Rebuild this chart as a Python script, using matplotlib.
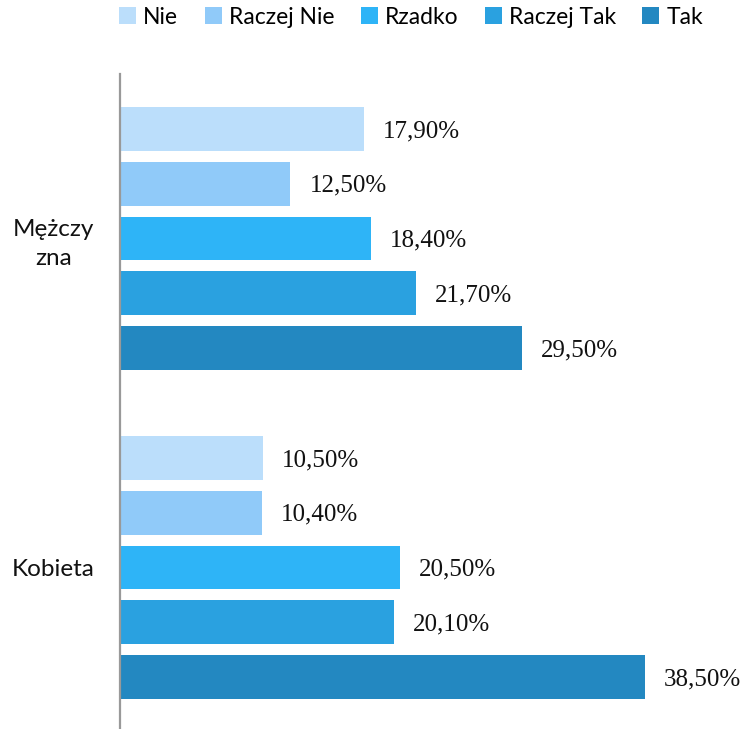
import matplotlib
matplotlib.use("Agg")
import matplotlib.pyplot as plt
from matplotlib.patches import Patch

categories = ["Mężczy\nzna", "Kobieta"]
series = ["Nie", "Raczej Nie", "Rzadko", "Raczej Tak", "Tak"]
values = {
    "Nie": [17.9, 10.5],
    "Raczej Nie": [12.5, 10.4],
    "Rzadko": [18.4, 20.5],
    "Raczej Tak": [21.7, 20.1],
    "Tak": [29.5, 38.5],
}
colors = ["#BBDEFB", "#90CAF9", "#2EB4F7", "#2AA1E0", "#2388C1"]

W, H = 744, 729
fig = plt.figure(figsize=(W / 100, H / 100), dpi=100)
ax = fig.add_axes([120 / W, -3 / H, 624 / W, 658 / H])

nser = len(series)
for gi, cat in enumerate(categories):
    for si, s in enumerate(series):
        y = gi * (nser + 1) + si
        v = values[s][gi]
        ax.barh(y, v, height=0.8, color=colors[si], edgecolor="none")
        ax.text(v + 1.4, y + 0.04, f"{v:.2f}%".replace(".", ","), va="center", ha="left",
                family="Liberation Serif", fontsize=18, color="#111111")

ax.set_xlim(0, 45.76)
ax.set_ylim(11, -1)
ax.set_xticks([])
centers = [gi * (nser + 1) + (nser - 1) / 2 for gi in range(len(categories))]
ax.set_yticks(centers)
ax.set_yticklabels(categories, family="Lato", fontsize=17.5, ha="center", color="#111111",
                   linespacing=1.45)
ax.tick_params(axis="y", length=0, pad=48)
for sp in ["top", "right", "bottom"]:
    ax.spines[sp].set_visible(False)
ax.spines["left"].set_color("#999999")
ax.spines["left"].set_linewidth(1.6)

handles = [Patch(facecolor=c, edgecolor="none") for c in colors]
fig.legend(handles, series, loc="center", bbox_to_anchor=(411 / W, 1 - 17 / H), ncol=5,
           frameon=False, prop={"family": "Lato", "size": 16.5},
           handlelength=0.75, handleheight=0.75, handletextpad=0.3, columnspacing=1.15)

fig.savefig("out.png", dpi=100)
